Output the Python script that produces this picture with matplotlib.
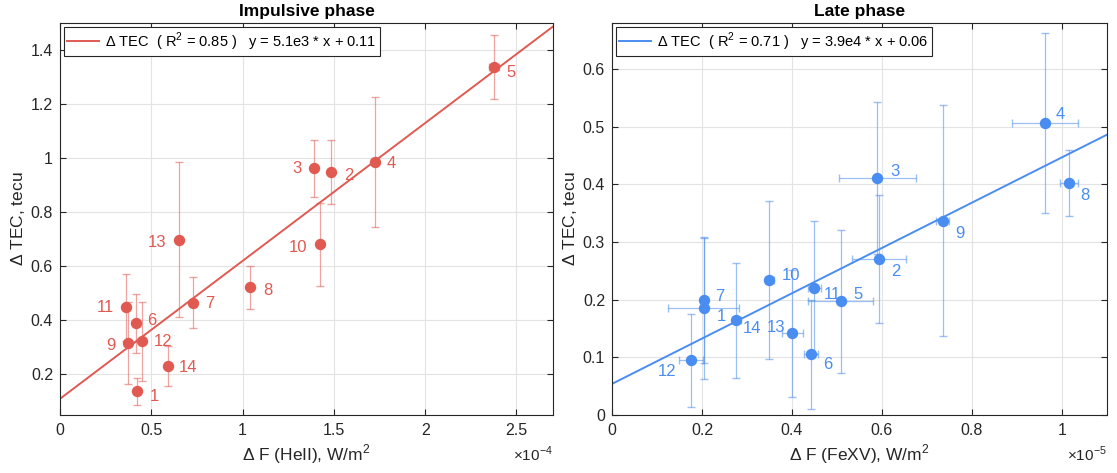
import matplotlib
matplotlib.use("Agg")
import matplotlib.pyplot as plt
from matplotlib.ticker import FuncFormatter, FixedLocator

plt.rcParams['font.family'] = ['Liberation Sans', 'DejaVu Sans']
plt.rcParams['mathtext.fontset'] = 'custom'
plt.rcParams['mathtext.rm'] = 'Liberation Sans'

# ---------------- Impulsive phase data ----------------
imp_ids = ['1', '2', '3', '4', '5', '6', '7', '8', '9', '10', '11', '12', '13', '14']
imp_x = [0.424e-4, 1.486e-4, 1.392e-4, 1.723e-4, 2.377e-4, 0.415e-4, 0.728e-4,
         1.042e-4, 0.373e-4, 1.424e-4, 0.364e-4, 0.450e-4, 0.652e-4, 0.590e-4]
imp_y = [0.138, 0.948, 0.963, 0.985, 1.338, 0.390, 0.466,
         0.522, 0.316, 0.681, 0.448, 0.322, 0.699, 0.232]
imp_yerr = [0.050, 0.118, 0.106, 0.240, 0.118, 0.109, 0.095,
            0.080, 0.153, 0.155, 0.123, 0.147, 0.285, 0.074]
imp_xerr = [0.0, 0.0, 0.0, 0.0, 0.027e-4, 0.0, 0.0,
            0.0, 0.0, 0.0, 0.0, 0.0, 0.0, 0.0]
imp_slope = 5.1e3
imp_intercept = 0.11
imp_label = r'$\Delta$ TEC  ( R$^2$ = 0.85 )   y = 5.1e3 * x + 0.11'

# ---------------- Late phase data ----------------
late_ids = ['1', '2', '3', '4', '5', '6', '7', '8', '9', '10', '11', '12', '13', '14']
late_x = [0.204e-5, 0.593e-5, 0.590e-5, 0.962e-5, 0.508e-5, 0.442e-5, 0.204e-5,
          1.016e-5, 0.735e-5, 0.350e-5, 0.450e-5, 0.175e-5, 0.401e-5, 0.276e-5]
late_y = [0.185, 0.270, 0.411, 0.507, 0.197, 0.105, 0.199,
          0.403, 0.337, 0.234, 0.221, 0.095, 0.142, 0.164]
late_yerr = [0.122, 0.111, 0.132, 0.156, 0.124, 0.095, 0.109,
             0.057, 0.200, 0.137, 0.115, 0.081, 0.110, 0.100]
late_xerr = [0.079e-5, 0.060e-5, 0.086e-5, 0.074e-5, 0.072e-5, 0.015e-5, 0.0,
             0.020e-5, 0.015e-5, 0.010e-5, 0.015e-5, 0.027e-5, 0.024e-5, 0.010e-5]
late_slope = 3.93e4
late_intercept = 0.054
late_label = r'$\Delta$ TEC  ( R$^2$ = 0.71 )   y = 3.9e4 * x + 0.06'

RED = '#E05A52'
BLUE = '#4A8DF0'

# label offsets (points)
imp_offsets = {'1': (9, -4), '2': (9, -2), '3': (-9, 0), '4': (9, -1), '5': (9, -4),
               '6': (8, 2), '7': (9, -1), '8': (9, -2), '9': (-9, -2), '10': (-9, -2),
               '11': (-9, 0), '12': (8, 0), '13': (-9, -2), '14': (8, -1)}
late_offsets = {'1': (9, -6), '2': (9, -9), '3': (9, 5), '4': (8, 6), '5': (9, 5),
                '6': (9, -7), '7': (8, 3), '8': (8, -9), '9': (9, -9), '10': (9, 3),
                '11': (7, -5), '12': (-10, -8), '13': (-5, 4), '14': (5, -6)}

fig = plt.figure(figsize=(11.17, 4.73), dpi=100)
ax1 = fig.add_axes([60 / 1117, 58 / 473, 493 / 1117, 392 / 473])
ax2 = fig.add_axes([612 / 1117, 58 / 473, 495 / 1117, 392 / 473])


def draw(ax, ids, x, y, xerr, yerr, slope, intercept, label, color, offsets,
         xlim, ylim, xticks, yticks, scale, exp_text, xlabel, title):
    ax.errorbar(x, y, yerr=yerr, xerr=xerr, fmt='none', ecolor=color,
                elinewidth=0.9, capsize=3, alpha=0.55, zorder=2)
    ax.plot(x, y, 'o', color=color, ms=8.2, mec='none', zorder=3)
    for i, xv, yv in zip(ids, x, y):
        dx, dy = offsets[i]
        ax.annotate(i, (xv, yv), xytext=(dx, dy), textcoords='offset points',
                    ha='left' if dx > 0 else 'right', va='center',
                    fontsize=12, color=color, zorder=4)
    lx = [xlim[0], xlim[1]]
    ly = [slope * v + intercept for v in lx]
    ax.plot(lx, ly, '-', color=color, lw=1.4, label=label, zorder=2.5)
    ax.set_xlim(xlim)
    ax.set_ylim(ylim)
    ax.xaxis.set_major_locator(FixedLocator(xticks))
    ax.yaxis.set_major_locator(FixedLocator(yticks))
    ax.xaxis.set_major_formatter(FuncFormatter(lambda v, p: f'{v * scale:g}'))
    ax.yaxis.set_major_formatter(FuncFormatter(lambda v, p: f'{v:g}'))
    ax.grid(True, color='#E3E3E3', lw=0.8, zorder=0)
    ax.set_axisbelow(True)
    ax.tick_params(direction='in', top=True, right=True, length=4,
                   labelsize=11.5, color='#262626', labelcolor='#262626', width=0.8)
    ax.tick_params(axis='x', pad=6)
    ax.tick_params(axis='y', pad=5)
    for s in ax.spines.values():
        s.set_color('#262626')
        s.set_linewidth(0.8)
    ax.set_xlabel(xlabel, fontsize=12.5, color='#262626', labelpad=3)
    ax.set_ylabel(r'$\Delta$ TEC, tecu', fontsize=12.5, color='#262626', labelpad=3)
    ax.set_title(title, fontsize=12.5, fontweight='bold', pad=5)
    ax.text(1.0, -0.1, exp_text, transform=ax.transAxes, ha='right', va='center',
            fontsize=11, color='#262626')
    leg = ax.legend(loc='upper left', fancybox=False, framealpha=1, edgecolor='#262626',
                    fontsize=10.5, handlelength=2.2, borderaxespad=0.25,
                    borderpad=0.25, handletextpad=0.4)
    leg.get_frame().set_linewidth(0.8)


draw(ax1, imp_ids, imp_x, imp_y, imp_xerr, imp_yerr, imp_slope, imp_intercept,
     imp_label, RED, imp_offsets, (0, 2.7e-4), (0.05, 1.5),
     [0, 0.5e-4, 1e-4, 1.5e-4, 2e-4, 2.5e-4], [0.2, 0.4, 0.6, 0.8, 1.0, 1.2, 1.4],
     1e4, r'$\times$10$^{-4}$', r'$\Delta$ F (HeII), W/m$^2$', 'Impulsive phase')

draw(ax2, late_ids, late_x, late_y, late_xerr, late_yerr, late_slope, late_intercept,
     late_label, BLUE, late_offsets, (0, 1.1e-5), (0, 0.68),
     [0, 0.2e-5, 0.4e-5, 0.6e-5, 0.8e-5, 1e-5], [0, 0.1, 0.2, 0.3, 0.4, 0.5, 0.6],
     1e5, r'$\times$10$^{-5}$', r'$\Delta$ F (FeXV), W/m$^2$', 'Late phase')

fig.savefig('out.png', dpi=100)
